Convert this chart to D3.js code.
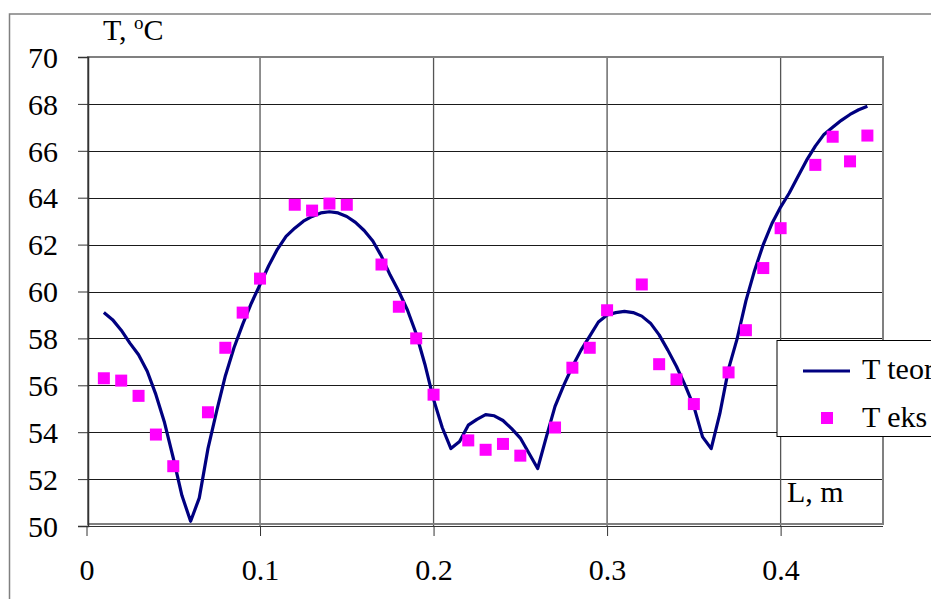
<!DOCTYPE html>
<meta charset="utf-8">
<head>
    <script type="text/javascript" src="https://cdn.jsdelivr.net/npm/d3@7/dist/d3.min.js"></script>
    <style>
        body { margin: 0; background: #fff; }
        text { font-family: "Liberation Serif", "Times New Roman", serif; fill: #000; }
    </style>
</head>
<body>
    <div id="chart"></div>
    <script>

        // theoretical curve, L in m
        let teor_L = [0.010, 0.015, 0.020, 0.025, 0.030, 0.035, 0.040, 0.045, 0.050, 0.055,
            0.060, 0.065, 0.070, 0.075, 0.080, 0.085, 0.090, 0.095, 0.100, 0.105,
            0.110, 0.115, 0.120, 0.125, 0.130, 0.135, 0.140, 0.145, 0.150, 0.155,
            0.160, 0.165, 0.170, 0.175, 0.180, 0.185, 0.190, 0.195, 0.200, 0.205,
            0.210, 0.215, 0.220, 0.225, 0.230, 0.235, 0.240, 0.245, 0.250, 0.255,
            0.260, 0.265, 0.270, 0.275, 0.280, 0.285, 0.290, 0.295, 0.300, 0.305,
            0.310, 0.315, 0.320, 0.325, 0.330, 0.335, 0.340, 0.345, 0.350, 0.355,
            0.360, 0.365, 0.370, 0.375, 0.380, 0.385, 0.390, 0.395, 0.400, 0.405,
            0.410, 0.415, 0.420, 0.425, 0.430, 0.435, 0.440, 0.445, 0.450]
        let teor_T = [59.1, 58.8, 58.35, 57.8, 57.3, 56.6, 55.6, 54.4, 52.9, 51.3,
            50.2, 51.2, 53.3, 54.9, 56.4, 57.6, 58.6, 59.5, 60.3, 61.1,
            61.8, 62.35, 62.7, 63.0, 63.2, 63.35, 63.4, 63.35, 63.2, 62.95,
            62.6, 62.15, 61.5, 60.7, 60.0, 59.2, 58.2, 56.9, 55.4, 54.2,
            53.3, 53.6, 54.3, 54.55, 54.75, 54.7, 54.5, 54.15, 53.75, 53.1,
            52.45, 53.8, 55.1, 56.0, 56.8, 57.5, 58.1, 58.7, 59.0, 59.1,
            59.15, 59.1, 58.95, 58.65, 58.15, 57.5, 56.8, 56.0, 55.1, 53.8,
            53.3, 54.8, 56.7, 58.0, 59.6, 60.9, 62.0, 62.9, 63.6, 64.2,
            64.9, 65.6, 66.2, 66.7, 67.0, 67.3, 67.55, 67.75, 67.9]

        // experimental points
        let eks_L = [0.01, 0.02, 0.03, 0.04, 0.05, 0.07, 0.08, 0.09, 0.10,
            0.12, 0.13, 0.14, 0.15, 0.17, 0.18, 0.19, 0.20,
            0.22, 0.23, 0.24, 0.25, 0.27, 0.28, 0.29, 0.30,
            0.32, 0.33, 0.34, 0.35, 0.37, 0.38, 0.39, 0.40,
            0.42, 0.43, 0.44, 0.45]
        let eks_T = [56.3, 56.2, 55.55, 53.9, 52.55, 54.85, 57.6, 59.1, 60.55,
            63.7, 63.45, 63.75, 63.7, 61.15, 59.35, 58.0, 55.6,
            53.65, 53.25, 53.5, 53.0, 54.2, 56.75, 57.6, 59.2,
            60.3, 56.9, 56.25, 55.2, 56.55, 58.35, 61.0, 62.7,
            65.4, 66.6, 65.55, 66.65]

        let x_ticks = [0, 0.1, 0.2, 0.3, 0.4]
        let y_ticks = [50, 52, 54, 56, 58, 60, 62, 64, 66, 68, 70]

        let svg_width = 931;
        let svg_height = 599;
        let font_size = 30

        let plot = { left: 88, top: 57, right: 883, bottom: 526 }

        let svg = d3.select("#chart")
            .append("svg")
            .attr("width", svg_width)
            .attr("height", svg_height)

        let x = d3.scaleLinear()
            .domain([0, 0.459])
            .range([86.5, 883])

        let y = d3.scaleLinear()
            .domain([50, 70])
            .range([plot.bottom, plot.top])

        // outer chart border (clipped by the picture on right/bottom)
        svg.append("path")
            .attr("d", "M9.5," + svg_height + " V14 H" + svg_width)
            .attr("fill", "none")
            .attr("stroke", "#808080")
            .attr("stroke-width", 1.5)

        // horizontal gridlines
        svg.append("g")
            .selectAll("line")
            .data(y_ticks)
            .enter()
            .append("line")
            .attr("x1", plot.left)
            .attr("x2", plot.right)
            .attr("y1", d => Math.round(y(d)) + 0.5)
            .attr("y2", d => Math.round(y(d)) + 0.5)
            .attr("stroke", "#1a1a1a")
            .attr("stroke-width", 1)

        // vertical gridlines
        svg.append("g")
            .selectAll("line")
            .data(x_ticks.slice(1))
            .enter()
            .append("line")
            .attr("x1", d => x(d))
            .attr("x2", d => x(d))
            .attr("y1", plot.top)
            .attr("y2", plot.bottom)
            .attr("stroke", "#555")
            .attr("stroke-width", 1.3)

        // plot area border
        svg.append("rect")
            .attr("x", plot.left)
            .attr("y", plot.top)
            .attr("width", plot.right - plot.left)
            .attr("height", plot.bottom - plot.top - 2)
            .attr("fill", "none")
            .attr("stroke", "#808080")
            .attr("stroke-width", 2)

        // y axis
        let y_axis = d3.axisLeft(y)
            .tickValues(y_ticks)
            .tickSize(10)
            .tickPadding(20)
            .tickFormat(d3.format("d"))

        svg.append("g")
            .attr("transform", "translate(" + plot.left + ",0)")
            .call(y_axis)
            .call(g => g.select(".domain").attr("stroke", "#333").attr("stroke-width", 1.5))
            .call(g => g.selectAll(".tick line").attr("stroke", "#333"))
            .call(g => g.selectAll(".tick text")
                .attr("font-size", font_size)
                .attr("font-family", "Liberation Serif")
                .attr("dy", "0.34em")
                .attr("x", -30))

        // x axis
        let x_axis = d3.axisBottom(x)
            .tickValues(x_ticks)
            .tickSize(10)
            .tickPadding(25)
            .tickFormat(d => d === 0 ? "0" : d3.format(".1f")(d))

        svg.append("g")
            .attr("transform", "translate(0," + plot.bottom + ")")
            .call(x_axis)
            .call(g => g.select(".domain").attr("d", "M" + plot.left + ",0.5H" + plot.right).attr("stroke", "#333"))
            .call(g => g.selectAll(".tick line").attr("stroke", "#333"))
            .call(g => g.selectAll(".tick text")
                .attr("font-size", font_size)
                .attr("font-family", "Liberation Serif")
                .attr("y", 34)
                .attr("dy", "0.66em"))

        // theoretical line
        let teor_data = teor_L.map((d, i) => ({ L: d, T: teor_T[i] }))

        svg.append("path")
            .datum(teor_data)
            .attr("fill", "none")
            .attr("stroke", "#000080")
            .attr("stroke-width", 3.2)
            .attr("stroke-linejoin", "round")
            .attr("d", d3.line()
                .x(d => x(d.L))
                .y(d => y(d.T)))

        // experimental markers
        let eks_data = eks_L.map((d, i) => ({ L: d, T: eks_T[i] }))
        let m = 12

        svg.append("g")
            .selectAll("rect")
            .data(eks_data)
            .enter()
            .append("rect")
            .attr("x", d => x(d.L) - m / 2)
            .attr("y", d => y(d.T) - m / 2)
            .attr("width", m)
            .attr("height", m)
            .attr("fill", "#ff00ff")

        // axis titles
        let t_title = svg.append("text")
            .attr("x", 103)
            .attr("y", 40)
            .attr("font-size", font_size)
        t_title.append("tspan").text("T, ")
        t_title.append("tspan").attr("font-size", 19).attr("dy", -11).text("o")
        t_title.append("tspan").attr("dy", 11).text("C")

        svg.append("text")
            .attr("x", 787)
            .attr("y", 502)
            .attr("font-size", font_size)
            .text("L, m")

        // legend
        let legend = svg.append("g")

        legend.append("rect")
            .attr("x", 777)
            .attr("y", 340.5)
            .attr("width", 200)
            .attr("height", 96)
            .attr("fill", "#fff")
            .attr("stroke", "#000")
            .attr("stroke-width", 1)

        legend.append("line")
            .attr("x1", 803)
            .attr("x2", 850)
            .attr("y1", 371)
            .attr("y2", 371)
            .attr("stroke", "#000080")
            .attr("stroke-width", 3.2)

        legend.append("text")
            .attr("x", 862)
            .attr("y", 379)
            .attr("font-size", font_size)
            .text("T teor")

        legend.append("rect")
            .attr("x", 821)
            .attr("y", 412)
            .attr("width", m)
            .attr("height", m)
            .attr("fill", "#ff00ff")

        legend.append("text")
            .attr("x", 862)
            .attr("y", 427)
            .attr("font-size", font_size)
            .text("T eks")

    </script>
</body>
</html>
